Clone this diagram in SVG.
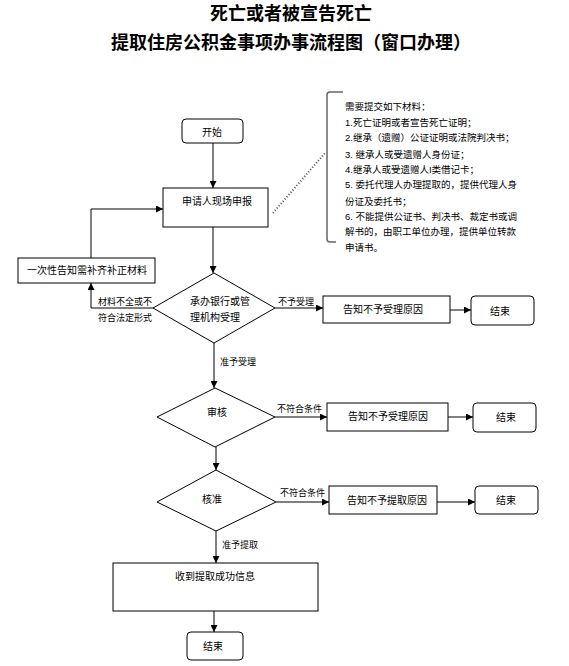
<svg xmlns="http://www.w3.org/2000/svg" width="569" height="666" viewBox="0 0 569 666">
<defs>
<marker id="ah" viewBox="0 0 8 8" refX="8" refY="4" markerWidth="7" markerHeight="7" markerUnits="userSpaceOnUse" orient="auto">
<path d="M0,0 L8,4 L0,8 Z" fill="#000"/>
</marker>
<style>
text{font-family:"Liberation Sans","Noto Sans CJK SC",sans-serif;fill:#000}
.t{font-size:18px;font-weight:bold;text-anchor:middle}
.n{font-size:10px}
.m{font-size:9.5px}
.s{font-size:9px}
.box{fill:#fff;stroke:#000;stroke-width:1}
.ln{fill:none;stroke:#000;stroke-width:1}
.ar{fill:none;stroke:#000;stroke-width:1;marker-end:url(#ah)}
</style>
</defs>
<rect width="569" height="666" fill="#fff"/>
<g id="title">
<text class="t" x="291" y="20">死亡或者被宣告死亡</text>
<text class="t" x="291" y="49">提取住房公积金事项办事流程图（窗口办理）</text>
</g>
<g id="connectors">
<line class="ar" x1="213" y1="143" x2="213" y2="188"/>
<line class="ar" x1="213" y1="227" x2="213" y2="273"/>
<polyline class="ar" points="153,308 91,308 91,283"/>
<polyline class="ar" points="91,258 91,209 163,209"/>
<line class="ar" x1="275" y1="308" x2="323" y2="308"/>
<line class="ar" x1="450" y1="310" x2="471" y2="310"/>
<line class="ar" x1="214" y1="343" x2="214" y2="388"/>
<line class="ar" x1="275" y1="417" x2="327" y2="417"/>
<line class="ar" x1="448" y1="417" x2="473" y2="417"/>
<line class="ar" x1="216" y1="447" x2="216" y2="470"/>
<line class="ar" x1="276" y1="502" x2="329" y2="502"/>
<line class="ar" x1="437" y1="502" x2="475" y2="502"/>
<line class="ar" x1="216" y1="531" x2="216" y2="563"/>
<line class="ar" x1="214" y1="611" x2="214" y2="632"/>
<line x1="273" y1="213" x2="325" y2="153" stroke="#555" stroke-width="2" stroke-dasharray="1,2"/>
<text class="s" x="98" y="305">材料不全或不</text>
<text class="s" x="98" y="321">符合法定形式</text>
<text class="s" x="278" y="305">不予受理</text>
<text class="s" x="220" y="365">准予受理</text>
<text class="s" x="277" y="412">不符合条件</text>
<text class="s" x="280" y="496">不符合条件</text>
<text class="s" x="222" y="548">准予提取</text>
</g>
<g id="start">
<rect class="box" x="182" y="119" width="61" height="24" rx="4"/>
<text class="n" x="202" y="136">开始</text>
</g>
<g id="apply">
<rect class="box" x="163" y="188" width="105" height="39"/>
<text class="n" x="182" y="205">申请人现场申报</text>
</g>
<g id="materials">
<path d="M343,92 L330,92 Q327,92 327,95 L327,239 Q327,242 330,242 L336,242" fill="none" stroke="#666" stroke-width="1.5"/>
<text class="m" x="345" y="110">需要提交如下材料：</text>
<text class="m" x="345" y="126">1.死亡证明或者宣告死亡证明；</text>
<text class="m" x="345" y="141">2.继承（遗赠）公证证明或法院判决书；</text>
<text class="m" x="345" y="158">3. 继承人或受遗赠人身份证；</text>
<text class="m" x="345" y="173">4.继承人或受遗赠人I类借记卡；</text>
<text class="m" x="345" y="188">5. 委托代理人办理提取的，提供代理人身</text>
<text class="m" x="345" y="205">份证及委托书；</text>
<text class="m" x="345" y="220">6. 不能提供公证书、判决书、裁定书或调</text>
<text class="m" x="345" y="235">解书的，由职工单位办理，提供单位转款</text>
<text class="m" x="345" y="251">申请书。</text>
</g>
<g id="notify">
<rect class="box" x="18" y="258" width="137" height="25"/>
<text class="n" x="27" y="274">一次性告知需补齐补正材料</text>
</g>
<g id="accept">
<polygon class="box" points="214,273 275,308 214,343 153,308"/>
<text class="n" x="190" y="305">承办银行或管</text>
<text class="n" x="190" y="321">理机构受理</text>
</g>
<g id="reject1">
<rect class="box" x="323" y="296" width="127" height="27"/>
<text class="n" x="343" y="313">告知不予受理原因</text>
</g>
<g id="end1">
<rect class="box" x="471" y="296" width="63" height="29" rx="4"/>
<text class="n" x="490" y="315">结束</text>
</g>
<g id="review">
<polygon class="box" points="215,388 275,417 215,447 157,417"/>
<text class="n" x="207" y="416">审核</text>
</g>
<g id="reject2">
<rect class="box" x="327" y="403" width="121" height="28"/>
<text class="n" x="348" y="420">告知不予受理原因</text>
</g>
<g id="end2">
<rect class="box" x="473" y="403" width="63" height="29" rx="4"/>
<text class="n" x="496" y="421">结束</text>
</g>
<g id="approve">
<polygon class="box" points="216,470 276,502 216,531 157,502"/>
<text class="n" x="202" y="503">核准</text>
</g>
<g id="reject3">
<rect class="box" x="329" y="486" width="108" height="28"/>
<text class="n" x="347" y="504">告知不予提取原因</text>
</g>
<g id="end3">
<rect class="box" x="475" y="486" width="63" height="28" rx="4"/>
<text class="n" x="496" y="504">结束</text>
</g>
<g id="success">
<rect class="box" x="113" y="563" width="205" height="48"/>
<text class="n" x="175" y="580">收到提取成功信息</text>
</g>
<g id="end4">
<rect class="box" x="187" y="632" width="56" height="28" rx="4"/>
<text class="n" x="203" y="650">结束</text>
</g>
</svg>
